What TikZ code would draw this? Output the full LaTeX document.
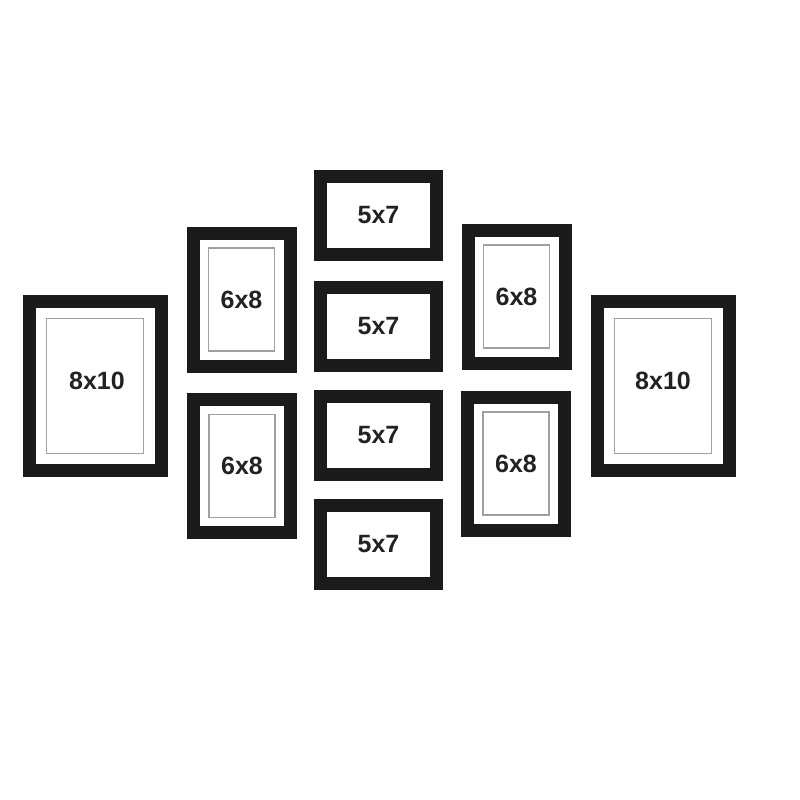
\documentclass[tikz,border=0pt]{standalone}
\usepackage{fontspec}
\setmainfont{Liberation Sans}
\usepackage{xcolor}
\usetikzlibrary{positioning}

\definecolor{framecol}{HTML}{1C1A1A}
\definecolor{matcol}{HTML}{A0A0A0}
\definecolor{labelcol}{HTML}{222222}

\begin{document}
\begin{tikzpicture}[
    x=1pt, y=-1pt,
    frame/.style={rectangle, draw=framecol, fill=white, line width=13pt, inner sep=0pt},
    mat/.style={rectangle, draw=matcol, line width=1.8pt, inner sep=0pt},
    size/.style={text=labelcol, font=\fontsize{25}{29}\selectfont\bfseries},
    big/.style={frame, minimum width=132pt, minimum height=169pt},
    mid/.style={frame, minimum width=97pt, minimum height=133pt},
    small/.style={frame, minimum width=116pt, minimum height=78pt},
    bigmat/.style={mat, minimum width=97pt, minimum height=135pt},
    midmat/.style={mat, size, minimum width=66pt, minimum height=103pt}
]
\useasboundingbox (0,0) rectangle (800,800);

% outer 8x10 frames
\node[big] (bigL) at (95,386) {};
\node[bigmat] (bigLmat) at (bigL) {};
\node[size] (bigLlab) at (97,381) {8x10};
\node[big] (bigR) at (663,386) {};
\node[bigmat] (bigRmat) at (bigR) {};
\node[size] (bigRlab) at (663,381) {8x10};

% 6x8 frames
\node[mid] (midLT) at (241.5,299.5) {};
\node[midmat] (midLTmat) at (midLT) {6x8};
\node[mid] (midLB) at (242,466) {};
\node[midmat] (midLBmat) at (midLB) {6x8};
\node[mid] (midRT) at (516.5,296.5) {};
\node[midmat] (midRTmat) at (midRT) {6x8};
\node[mid] (midRB) at (516,463.5) {};
\node[midmat] (midRBmat) at (midRB) {6x8};

% 5x7 column in the middle
\node[small] (small1) at (378.5,215.5) {};
\node[size] (small1lab) at (small1) {5x7};
\node[small] (small2) at (378.5,326) {};
\node[size] (small2lab) at (small2) {5x7};
\node[small] (small3) at (378.5,435) {};
\node[size] (small3lab) at (small3) {5x7};
\node[small] (small4) at (378.5,544.5) {};
\node[size] (small4lab) at (small4) {5x7};

\end{tikzpicture}
\end{document}
